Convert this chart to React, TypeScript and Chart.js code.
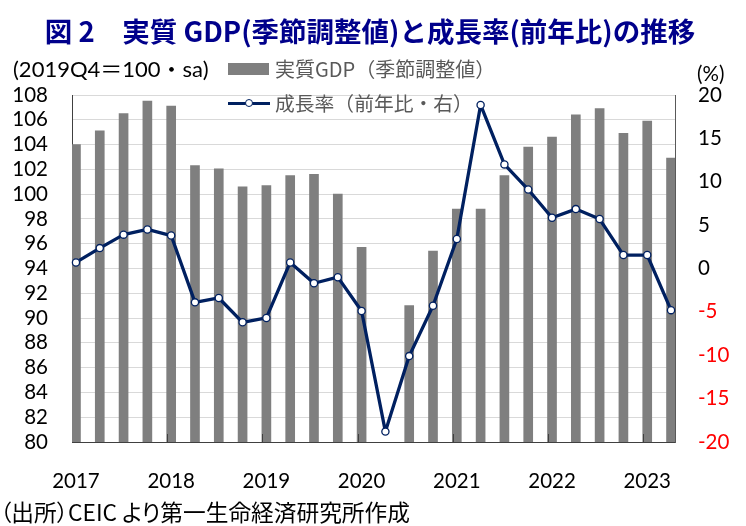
import React, { useEffect, useRef } from 'react';
import { Chart, registerables } from 'chart.js';

Chart.register(...registerables);

// ---- data ----
const quarters = [
  '2017Q1', '2017Q2', '2017Q3', '2017Q4',
  '2018Q1', '2018Q2', '2018Q3', '2018Q4',
  '2019Q1', '2019Q2', '2019Q3', '2019Q4',
  '2020Q1', '2020Q2', '2020Q3', '2020Q4',
  '2021Q1', '2021Q2', '2021Q3', '2021Q4',
  '2022Q1', '2022Q2', '2022Q3', '2022Q4',
  '2023Q1', '2023Q2',
];
// real GDP, seasonally adjusted, 2019Q4 = 100 (2020Q2 falls below the axis floor)
const gdpIndex: (number | null)[] = [
  104.0, 105.1, 106.5, 107.5,
  107.1, 102.3, 102.05, 100.6,
  100.7, 101.5, 101.6, 100.0,
  95.7, null, 91.0, 95.4,
  98.8, 98.8, 101.5, 103.8,
  104.6, 106.4, 106.9, 104.9,
  105.9, 102.9,
];
// growth rate, % y/y (right axis)
const growthYoY = [
  0.7, 2.35, 3.9, 4.5,
  3.8, -3.9, -3.4, -6.2,
  -5.7, 0.7, -1.7, -1.0,
  -4.9, -18.8, -10.1, -4.3,
  3.4, 18.85, 12.0, 9.1,
  5.85, 6.85, 5.7, 1.55,
  1.55, -4.8,
];
const yearLabels = ['2017', '2018', '2019', '2020', '2021', '2022', '2023'];
const leftAxis = { min: 80, max: 108, step: 2 };
const rightAxis = { min: -20, max: 20, step: 5 };

// monthly date-style axis: each quarter plotted at its first month
const monthCount = quarters.length * 3 - 2;
const monthLabels = Array.from({ length: monthCount }, (_, m) => `${yearLabels[0]}+${m}`);
const gdpByMonth = monthLabels.map((_, m) => (m % 3 === 0 ? gdpIndex[m / 3] : null));
const growthByMonth = monthLabels.map((_, m) => (m % 3 === 0 ? growthYoY[m / 3] : null));

const NAVY = '#002060';
const BAR = '#7f7f7f';
const NUM_FONT = 'Lato, "Noto Sans", sans-serif';
const JP_FONT = '"Noto Sans CJK JP", "Noto Sans", sans-serif';

const yearTickPlugin = {
  id: 'yearTicks',
  afterDatasetsDraw(chart: any) {
    const x = chart.scales.x;
    const bottom = chart.chartArea.bottom;
    const ctx = chart.ctx;
    ctx.save();
    ctx.strokeStyle = '#404040';
    ctx.lineWidth = 1;
    for (let i = 12; i < monthCount; i += 12) {
      const px = Math.round((x.getPixelForValue(i - 1) + x.getPixelForValue(i)) / 2) + 0.5;
      ctx.beginPath();
      ctx.moveTo(px, bottom);
      ctx.lineTo(px, bottom - 8);
      ctx.stroke();
    }
    ctx.restore();
  },
};

function Label(props: {
  x: number; cy: number; size: number; color?: string; weight?: number | string;
  family?: string; align?: 'left' | 'center'; text: string; palt?: boolean;
}) {
  const { x, cy, size, color = '#000', weight = 400, family = JP_FONT, align = 'left', text, palt } = props;
  return (
    <div
      style={{
        position: 'absolute',
        left: x,
        top: cy,
        transform: align === 'center' ? 'translate(-50%, -50%)' : 'translateY(-50%)',
        fontSize: size,
        lineHeight: 1,
        color,
        fontWeight: weight as any,
        fontFamily: family,
        whiteSpace: 'nowrap',
        fontFeatureSettings: palt ? '"palt"' : undefined,
      }}
    >
      {text}
    </div>
  );
}

export default function App() {
  const ref = useRef<HTMLCanvasElement | null>(null);

  useEffect(() => {
    if (!ref.current) return;
    const chart = new Chart(ref.current, {
      type: 'bar',
      data: {
        labels: monthLabels,
        datasets: [
          {
            type: 'line',
            label: '成長率（前年比・右）',
            data: growthByMonth,
            yAxisID: 'y2',
            borderColor: NAVY,
            borderWidth: 3.3,
            borderJoinStyle: 'round',
            pointRadius: 3.6,
            pointBorderWidth: 1.3,
            pointBackgroundColor: '#ffffff',
            pointBorderColor: NAVY,
            spanGaps: true,
            tension: 0,
            order: 0,
          } as any,
          {
            type: 'bar',
            label: '実質GDP（季節調整値）',
            data: gdpByMonth,
            yAxisID: 'y',
            backgroundColor: BAR,
            barThickness: 9,
            order: 1,
          } as any,
        ],
      },
      options: {
        responsive: false,
        animation: false,
        events: [],
        layout: { padding: { top: 95, left: 0, right: 0, bottom: 0 } },
        plugins: {
          legend: { display: false },
          title: { display: false },
          tooltip: { enabled: false },
        },
        scales: {
          x: {
            type: 'category',
            offset: true,
            grid: { display: false },
            border: { display: true, color: '#404040', width: 1 },
            ticks: {
              autoSkip: false,
              maxRotation: 0,
              minRotation: 0,
              padding: 19,
              color: '#000',
              font: { family: NUM_FONT, size: 20.5 },
              callback: (_v: any, i: number) => (i % 12 === 0 ? yearLabels[i / 12] : ''),
            },
            afterFit: (s: any) => { s.height = 84; },
          },
          y: {
            position: 'left',
            min: leftAxis.min,
            max: leftAxis.max,
            grid: { color: '#d9d9d9', lineWidth: 1, drawTicks: false },
            border: { display: true, color: '#404040', width: 1 },
            ticks: {
              stepSize: leftAxis.step,
              autoSkip: false,
              padding: 24,
              color: '#000',
              font: { family: NUM_FONT, size: 20.5 },
            },
            afterFit: (s: any) => { s.width = 72; },
          },
          y2: {
            position: 'right',
            min: rightAxis.min,
            max: rightAxis.max,
            grid: { display: false, drawTicks: false },
            border: { display: true, color: '#595959', width: 1 },
            ticks: {
              stepSize: rightAxis.step,
              autoSkip: false,
              padding: 23,
              color: (c: any) => (c.tick && c.tick.value < 0 ? '#ff0000' : '#000000'),
              font: { family: NUM_FONT, size: 20.5 },
            },
            afterFit: (s: any) => { s.width = 71; },
          },
        },
      },
      plugins: [yearTickPlugin],
    });
    return () => chart.destroy();
  }, []);

  return (
    <div style={{ position: 'absolute', left: 0, top: 0, width: 746, height: 526, background: '#fff', overflow: 'hidden' }}>
      <canvas ref={ref} width={746} height={526} style={{ position: 'absolute', left: 0, top: 0, width: 746, height: 526 }} />
      <Label x={370} cy={31} size={27.5} weight={700} color="#00008b" align="center"
        text="図 2　実質 GDP(季節調整値)と成長率(前年比)の推移" />
      <Label x={13} cy={69} size={22} family={NUM_FONT + ', ' + JP_FONT} text="(2019Q4＝100・sa)" />
      <Label x={697} cy={73} size={20.5} family={NUM_FONT} text="(%)" />
      {/* legend */}
      <div style={{ position: 'absolute', left: 228, top: 63, width: 41, height: 12, background: BAR }} />
      <Label x={275} cy={69} size={20} color="#595959" text="実質GDP（季節調整値）" />
      <div style={{ position: 'absolute', left: 228, top: 101.5, width: 42, height: 3.3, background: NAVY }} />
      <div style={{ position: 'absolute', left: 244.5, top: 98.5, width: 6.5, height: 6.5, borderRadius: '50%', background: '#fff', border: `1.3px solid ${NAVY}` }} />
      <Label x={275} cy={103} size={19.8} color="#595959" text="成長率（前年比・右）" />
      <Label x={0} cy={512} size={22.7} palt text="（出所）CEIC より第一生命経済研究所作成" />
    </div>
  );
}
